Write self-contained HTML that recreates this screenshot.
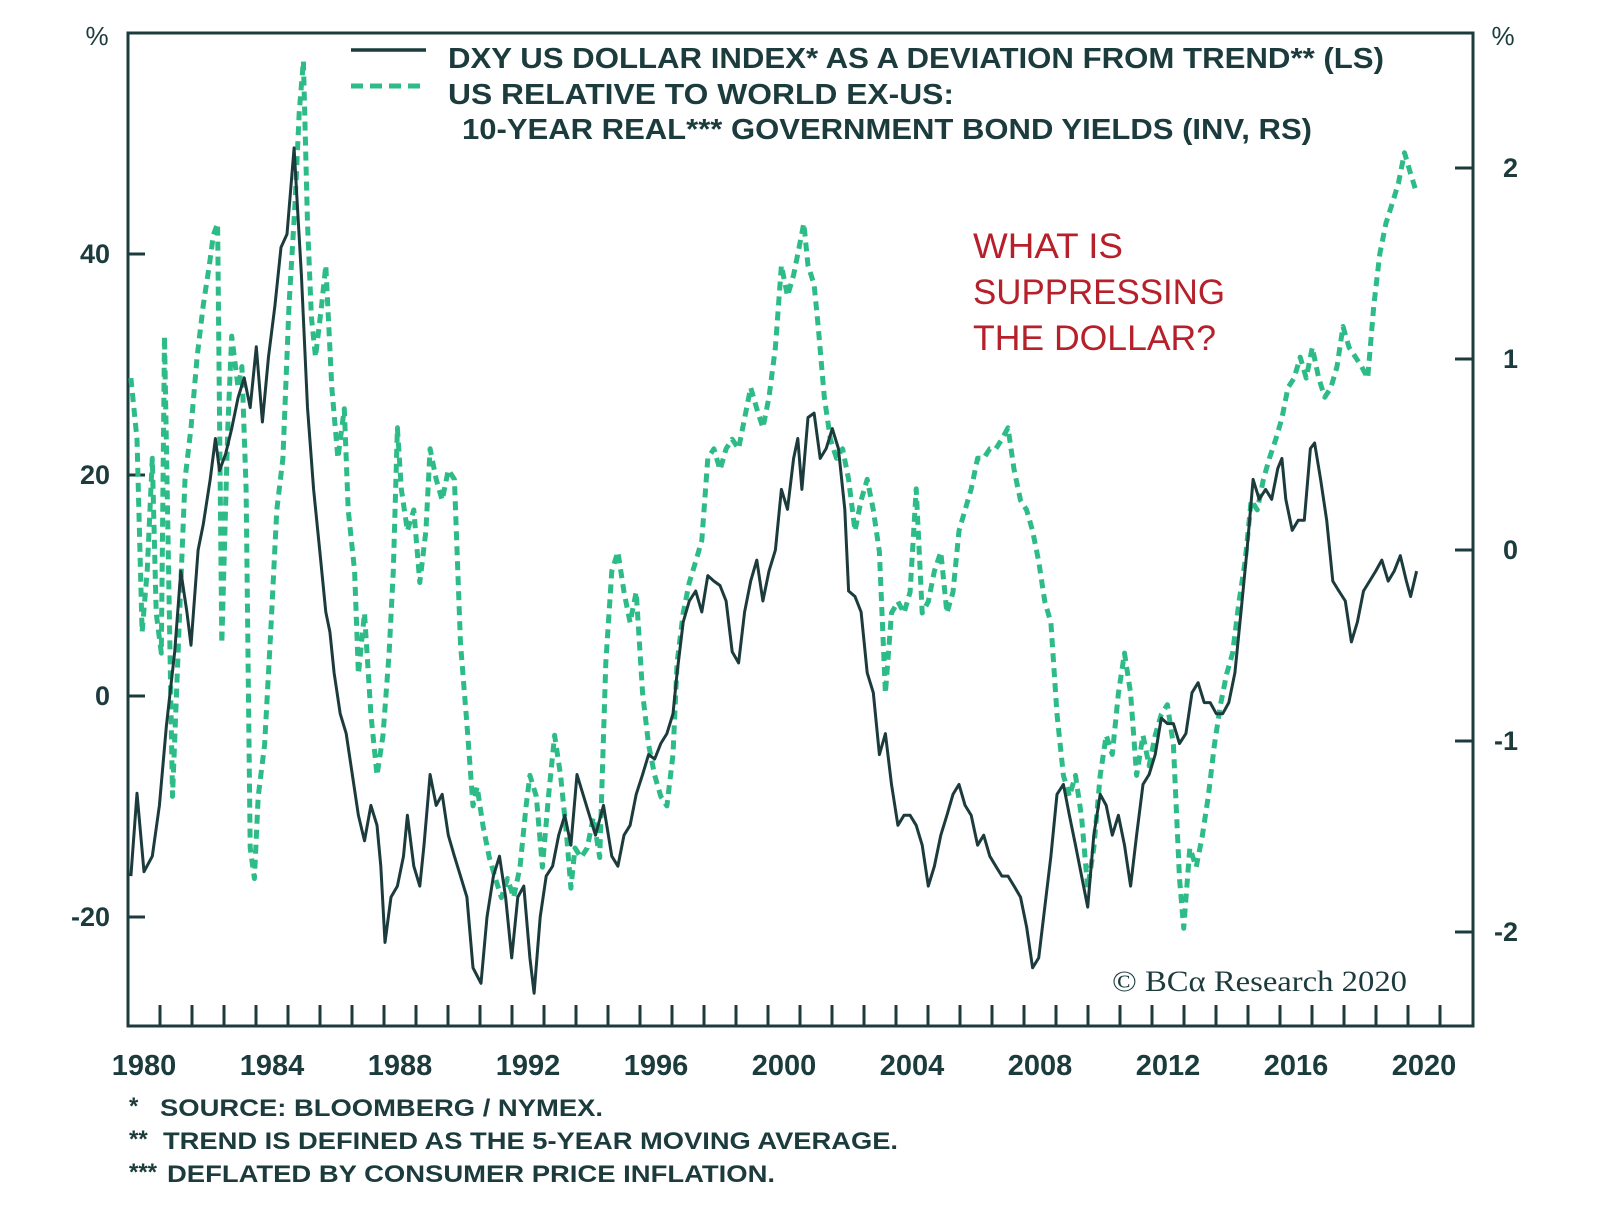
<!DOCTYPE html>
<html><head><meta charset="utf-8"><style>
html,body{margin:0;padding:0;background:#fff;}
svg{display:block;}
text{font-family:"Liberation Sans",sans-serif;fill:#1c3b3d;}
</style></head><body>
<svg id="chart" width="1600" height="1211" viewBox="0 0 1600 1211" xmlns="http://www.w3.org/2000/svg">
<g id="axes"></g>
<g id="series"></g>
<g>
 <line x1="351" y1="50" x2="426" y2="50" stroke="#1c3b3d" stroke-width="3.5"/>
 <line x1="351" y1="86" x2="426" y2="86" stroke="#2dbb87" stroke-width="5" stroke-dasharray="12,7"/>
 <text x="448" y="68" font-size="29" font-weight="bold" textLength="936" lengthAdjust="spacingAndGlyphs">DXY US DOLLAR INDEX* AS A DEVIATION FROM TREND** (LS)</text>
 <text x="448" y="104" font-size="29" font-weight="bold" textLength="506" lengthAdjust="spacingAndGlyphs">US RELATIVE TO WORLD EX-US:</text>
 <text x="462" y="139" font-size="29" font-weight="bold" textLength="850" lengthAdjust="spacingAndGlyphs">10-YEAR REAL*** GOVERNMENT BOND YIELDS (INV, RS)</text>
</g>
<g>
 <text x="973" y="258" font-size="35" style="fill:#b5202a" textLength="150" lengthAdjust="spacingAndGlyphs">WHAT IS</text>
 <text x="973" y="304" font-size="35" style="fill:#b5202a" textLength="252" lengthAdjust="spacingAndGlyphs">SUPPRESSING</text>
 <text x="973" y="350" font-size="35" style="fill:#b5202a" textLength="243" lengthAdjust="spacingAndGlyphs">THE DOLLAR?</text>
</g>
<text x="1112" y="991" font-size="30" style="font-family:'Liberation Serif',serif" textLength="295" lengthAdjust="spacingAndGlyphs">© BCα Research 2020</text>
<g>
 <text x="129" y="1114" font-size="24" font-weight="bold">*</text>
 <text x="160" y="1116" font-size="24" font-weight="bold" textLength="443" lengthAdjust="spacingAndGlyphs">SOURCE: BLOOMBERG / NYMEX.</text>
 <text x="129" y="1147" font-size="24" font-weight="bold">**</text>
 <text x="163" y="1149" font-size="24" font-weight="bold" textLength="735" lengthAdjust="spacingAndGlyphs">TREND IS DEFINED AS THE 5-YEAR MOVING AVERAGE.</text>
 <text x="129" y="1180" font-size="24" font-weight="bold">***</text>
 <text x="167" y="1182" font-size="24" font-weight="bold" textLength="608" lengthAdjust="spacingAndGlyphs">DEFLATED BY CONSUMER PRICE INFLATION.</text>
</g>
</svg>
<script>
const dxyYears=[1979.59,1979.78,1980.0,1980.26,1980.48,1980.70,1980.96,1981.15,1981.34,1981.47,1981.69,1981.85,1982.07,1982.23,1982.36,1982.55,1982.74,1982.94,1983.13,1983.32,1983.51,1983.70,1983.89,1984.09,1984.28,1984.47,1984.60,1984.69,1984.79,1984.92,1985.11,1985.30,1985.49,1985.68,1985.81,1985.94,1986.13,1986.32,1986.51,1986.70,1986.89,1987.09,1987.28,1987.40,1987.53,1987.72,1987.92,1988.11,1988.23,1988.43,1988.62,1988.75,1988.94,1989.13,1989.32,1989.51,1989.70,1989.89,1990.09,1990.28,1990.53,1990.72,1990.92,1991.11,1991.30,1991.49,1991.68,1991.87,1992.06,1992.19,1992.38,1992.57,1992.77,1992.96,1993.15,1993.34,1993.53,1993.72,1993.92,1994.11,1994.36,1994.62,1994.81,1995.00,1995.19,1995.38,1995.58,1995.77,1995.96,1996.15,1996.34,1996.53,1996.66,1996.85,1997.04,1997.24,1997.43,1997.62,1997.81,1998.00,1998.19,1998.38,1998.58,1998.77,1998.96,1999.15,1999.34,1999.53,1999.73,1999.92,2000.11,2000.30,2000.43,2000.56,2000.75,2000.94,2001.13,2001.32,2001.51,2001.70,2001.90,2002.02,2002.22,2002.41,2002.60,2002.79,2002.98,2003.17,2003.36,2003.56,2003.75,2003.94,2004.13,2004.32,2004.51,2004.70,2004.90,2005.09,2005.28,2005.47,2005.66,2005.85,2006.05,2006.24,2006.43,2006.62,2006.81,2007.00,2007.19,2007.39,2007.58,2007.77,2007.96,2008.15,2008.34,2008.53,2008.73,2008.92,2009.11,2009.30,2009.49,2009.68,2009.88,2010.07,2010.26,2010.45,2010.64,2010.83,2011.02,2011.22,2011.41,2011.60,2011.79,2011.98,2012.17,2012.36,2012.56,2012.75,2012.94,2013.13,2013.32,2013.51,2013.71,2013.90,2014.09,2014.28,2014.47,2014.66,2014.85,2015.05,2015.24,2015.43,2015.56,2015.68,2015.88,2016.07,2016.26,2016.45,2016.58,2016.77,2016.96,2017.15,2017.34,2017.54,2017.73,2017.92,2018.11,2018.30,2018.49,2018.68,2018.88,2019.07,2019.26,2019.45,2019.58,2019.77];
const dxyValues=[-16.3,-8.8,-15.9,-14.5,-9.9,-2.7,4.0,11.3,7.6,4.6,13.2,15.5,19.6,23.3,20.4,21.9,24.2,27.0,28.8,26.1,31.6,24.8,30.7,35.3,40.6,41.8,46.4,49.6,44.5,38.1,26.1,18.7,13.2,7.6,5.8,2.1,-1.6,-3.4,-7.1,-10.8,-13.1,-9.9,-11.7,-15.4,-22.3,-18.2,-17.2,-14.5,-10.8,-15.4,-17.2,-13.5,-7.1,-9.9,-8.9,-12.6,-14.5,-16.3,-18.2,-24.6,-26.0,-20.0,-16.3,-14.5,-18.2,-23.7,-18.2,-17.2,-23.7,-26.9,-20.0,-16.3,-15.4,-12.6,-10.8,-13.5,-7.1,-8.9,-10.8,-12.6,-9.9,-14.5,-15.4,-12.6,-11.7,-8.9,-7.1,-5.3,-5.7,-4.3,-3.4,-1.6,2.1,6.7,8.6,9.5,7.6,10.9,10.4,10.0,8.6,4.0,3.0,7.6,10.4,12.3,8.6,11.3,13.2,18.7,16.9,21.5,23.3,18.7,25.2,25.6,21.5,22.4,24.2,22.4,16.9,9.5,9.0,7.6,2.1,0.3,-5.3,-3.4,-8.0,-11.7,-10.8,-10.8,-11.7,-13.5,-17.2,-15.4,-12.6,-10.8,-8.9,-8.0,-9.9,-10.8,-13.5,-12.6,-14.5,-15.4,-16.3,-16.3,-17.2,-18.2,-20.9,-24.6,-23.7,-19.1,-14.5,-8.9,-8.0,-10.8,-13.5,-16.3,-19.1,-12.6,-8.9,-9.9,-12.6,-10.8,-13.5,-17.2,-12.6,-8.0,-7.1,-5.3,-2.0,-2.5,-2.5,-4.3,-3.4,0.3,1.2,-0.6,-0.6,-1.6,-1.6,-0.6,2.1,7.6,13.2,19.6,17.8,18.7,17.8,20.6,21.5,17.8,15.0,15.9,15.9,22.4,22.9,19.6,15.9,10.4,9.5,8.6,4.9,6.7,9.5,10.4,11.3,12.3,10.4,11.3,12.7,10.4,9.0,11.3];
const yieldYears=[1979.59,1979.78,1979.94,1980.10,1980.26,1980.38,1980.54,1980.64,1980.77,1980.89,1981.09,1981.28,1981.47,1981.66,1981.85,1982.04,1982.17,1982.30,1982.43,1982.62,1982.74,1982.94,1983.06,1983.19,1983.32,1983.45,1983.57,1983.77,1983.96,1984.15,1984.34,1984.53,1984.72,1984.85,1984.98,1985.11,1985.23,1985.36,1985.55,1985.68,1985.87,1986.06,1986.26,1986.38,1986.58,1986.70,1986.89,1987.09,1987.28,1987.47,1987.66,1987.79,1987.92,1988.04,1988.23,1988.43,1988.62,1988.81,1988.94,1989.13,1989.32,1989.51,1989.70,1989.89,1990.09,1990.28,1990.41,1990.60,1990.79,1990.98,1991.17,1991.36,1991.55,1991.75,1991.94,1992.06,1992.26,1992.45,1992.64,1992.83,1993.02,1993.21,1993.34,1993.47,1993.66,1993.85,1994.04,1994.24,1994.43,1994.62,1994.81,1995.00,1995.19,1995.38,1995.58,1995.77,1995.96,1996.15,1996.34,1996.53,1996.66,1996.85,1997.04,1997.24,1997.43,1997.62,1997.81,1998.00,1998.19,1998.38,1998.58,1998.77,1998.96,1999.15,1999.34,1999.53,1999.73,1999.92,2000.11,2000.30,2000.49,2000.62,2000.75,2000.94,2001.07,2001.26,2001.45,2001.64,2001.83,2002.02,2002.22,2002.41,2002.60,2002.79,2002.98,2003.17,2003.36,2003.56,2003.75,2003.94,2004.13,2004.32,2004.51,2004.70,2004.90,2005.09,2005.28,2005.47,2005.66,2005.85,2006.05,2006.24,2006.43,2006.62,2006.81,2007.00,2007.19,2007.39,2007.58,2007.77,2007.96,2008.15,2008.34,2008.53,2008.73,2008.92,2009.11,2009.30,2009.49,2009.68,2009.88,2010.07,2010.26,2010.45,2010.64,2010.83,2011.02,2011.22,2011.41,2011.60,2011.79,2011.98,2012.17,2012.36,2012.49,2012.68,2012.88,2013.07,2013.26,2013.45,2013.64,2013.83,2014.02,2014.22,2014.41,2014.60,2014.79,2014.98,2015.17,2015.37,2015.56,2015.75,2015.94,2016.13,2016.32,2016.51,2016.71,2016.90,2017.09,2017.28,2017.47,2017.66,2017.86,2018.05,2018.24,2018.43,2018.62,2018.81,2019.00,2019.20,2019.39,2019.58,2019.77];
const yieldValues=[0.90,0.58,-0.43,-0.11,0.48,-0.33,-0.54,1.12,-0.11,-1.29,-0.43,0.37,0.64,1.01,1.28,1.49,1.65,1.71,-0.49,0.64,1.12,0.85,0.96,0.32,-1.56,-1.72,-1.29,-1.02,-0.43,0.21,0.48,1.28,1.81,2.29,2.56,1.71,1.22,1.01,1.28,1.49,0.85,0.48,0.74,0.21,-0.11,-0.65,-0.33,-0.86,-1.18,-0.97,-0.54,-0.11,0.64,0.32,0.10,0.21,-0.17,0.10,0.53,0.37,0.26,0.42,0.37,-0.49,-0.91,-1.34,-1.24,-1.45,-1.61,-1.72,-1.82,-1.72,-1.82,-1.66,-1.34,-1.18,-1.29,-1.66,-1.29,-0.97,-1.18,-1.50,-1.77,-1.56,-1.61,-1.56,-1.40,-1.61,-0.59,-0.11,-0.01,-0.22,-0.38,-0.22,-0.75,-1.02,-1.18,-1.29,-1.34,-1.07,-0.59,-0.33,-0.17,-0.06,0.05,0.48,0.53,0.42,0.53,0.58,0.53,0.69,0.85,0.74,0.64,0.80,1.06,1.49,1.33,1.44,1.60,1.71,1.49,1.39,1.17,0.80,0.58,0.48,0.53,0.37,0.10,0.26,0.37,0.21,-0.01,-0.75,-0.33,-0.27,-0.33,-0.22,0.32,-0.33,-0.27,-0.11,-0.01,-0.33,-0.22,0.10,0.21,0.32,0.48,0.48,0.53,0.53,0.58,0.64,0.42,0.26,0.21,0.10,-0.06,-0.27,-0.38,-0.86,-1.18,-1.29,-1.18,-1.40,-1.77,-1.56,-1.18,-0.97,-1.07,-0.75,-0.54,-0.75,-1.18,-0.97,-1.13,-0.97,-0.86,-0.81,-1.02,-1.72,-1.98,-1.56,-1.66,-1.50,-1.29,-1.02,-0.81,-0.65,-0.54,-0.27,-0.06,0.26,0.21,0.37,0.48,0.58,0.69,0.85,0.90,1.01,0.90,1.06,0.90,0.80,0.85,0.96,1.17,1.06,1.01,0.96,0.90,1.28,1.55,1.71,1.81,1.92,2.08,1.97,1.87];
const leftTicks=[40,20,0,-20];
const leftTickLabels=["40","20","0","-20"];
const rightTicks=[2,1,0,-1,-2];
const rightTickLabels=["2","1","0","-1","-2"];
const yearLabels=[1980,1984,1988,1992,1996,2000,2004,2008,2012,2016,2020];

const NS="http://www.w3.org/2000/svg";
const L=128,R=1473,T=33,B=1026;
function xScale(yr){return 144+(yr-1980)*32;}
function yLeft(v){return 696-v*11.05;}
function yRight(v){return 550-v*191;}
function mk(tag,attrs,parent){const e=document.createElementNS(NS,tag);for(const k in attrs)e.setAttribute(k,attrs[k]);parent.appendChild(e);return e;}
const axes=document.getElementById('axes');
const series=document.getElementById('series');
const C="#1c3b3d";
let frame=mk('rect',{x:L,y:T,width:R-L,height:B-T,fill:'none',stroke:C,'stroke-width':3},axes);


leftTicks.forEach((v,i)=>{
  let t=mk('line',{x1:L,x2:L+17,y1:yLeft(v),y2:yLeft(v),stroke:C,'stroke-width':3},axes);
  
  
  let tx=mk('text',{x:110,y:yLeft(v)+9,'text-anchor':'end','font-size':27,'font-weight':'bold'},axes);
  tx.textContent=leftTickLabels[i];
  
  
});
rightTicks.forEach((v,i)=>{
  let t=mk('line',{x1:R-18,x2:R,y1:yRight(v),y2:yRight(v),stroke:C,'stroke-width':3},axes);
  
  
  let tx=mk('text',{x:1518,y:yRight(v)+9,'text-anchor':'end','font-size':27,'font-weight':'bold'},axes);
  tx.textContent=rightTickLabels[i];
  
  
});
for(let y=1980;y<=2020;y++){
  let t=mk('line',{x1:xScale(y+0.5),x2:xScale(y+0.5),y1:B,y2:B-21,stroke:C,'stroke-width':3},axes);
  
  
}
yearLabels.forEach(y=>{
  let tx=mk('text',{x:xScale(y),y:1075,'text-anchor':'middle','font-size':29,'font-weight':'bold'},axes);
  tx.textContent=String(y);
  
  
});
let pl=mk('text',{x:97,y:45,'text-anchor':'middle','font-size':26},axes);
pl.textContent='%';


let pr=mk('text',{x:1503,y:45,'text-anchor':'middle','font-size':26},axes);
pr.textContent='%';



let d1=yieldYears.map((y,i)=>(i?'L':'M')+xScale(y).toFixed(1)+','+yRight(yieldValues[i]).toFixed(1)).join('');
let g=mk('path',{d:d1,fill:'none',stroke:'#2dbb87','stroke-width':5,'stroke-dasharray':'9,6','stroke-linejoin':'round'},series);


let d2=dxyYears.map((y,i)=>(i?'L':'M')+xScale(y).toFixed(1)+','+yLeft(dxyValues[i]).toFixed(1)).join('');
let b=mk('path',{d:d2,fill:'none',stroke:C,'stroke-width':3,'stroke-linejoin':'round'},series);


</script>
</body></html>
